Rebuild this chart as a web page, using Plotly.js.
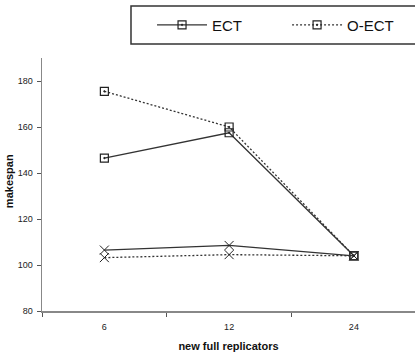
<!DOCTYPE html>
<html>
<head>
<meta charset="utf-8">
<script src="https://cdn.plot.ly/plotly-3.0.1.min.js"></script>
<style>html,body{margin:0;padding:0;background:#fff;}#chart{width:415px;height:357px;}</style>
</head>
<body>
<div id="chart"></div>
<script>
const categories = ["6", "12", "24"];
const ectSquare = [146.5, 157.5, 104];
const oectSquare = [175.5, 160, 104];
const ectCross = [106.5, 108.5, 104];
const oectCross = [103.2, 104.5, 104];
const yTicks = [80, 100, 120, 140, 160, 180];

const lineCol = '#333333';
const dotted = '2px,2px';
const traces = [
  {x: categories, y: ectSquare, name: 'ECT', legend: 'legend', type: 'scatter', mode: 'lines+markers',
   line: {color: lineCol, width: 1.3},
   marker: {symbol: 'square-open-dot', size: 8, color: '#222', line: {width: 1.2}}},
  {x: categories, y: oectSquare, name: 'O-ECT', legend: 'legend2', type: 'scatter', mode: 'lines+markers',
   line: {color: lineCol, width: 1.3, dash: dotted},
   marker: {symbol: 'square-open-dot', size: 8, color: '#222', line: {width: 1.2}}},
  {x: categories, y: ectCross, name: 'ECT ×', showlegend: false, type: 'scatter', mode: 'lines+markers',
   line: {color: lineCol, width: 1.3},
   marker: {symbol: 'x-thin-open', size: 9, color: '#222', line: {width: 1}}},
  {x: categories, y: oectCross, name: 'O-ECT ×', showlegend: false, type: 'scatter', mode: 'lines+markers',
   line: {color: lineCol, width: 1.3, dash: dotted},
   marker: {symbol: 'x-thin-open', size: 9, color: '#222', line: {width: 1}}}
];

const legendBase = {orientation: 'h', xanchor: 'left', yanchor: 'middle', y: 1.13,
  font: {size: 15, color: '#111'}, bgcolor: 'rgba(0,0,0,0)', borderwidth: 0, itemwidth: 50};

const layout = {
  width: 415, height: 357,
  margin: {l: 42, r: 0, t: 58, b: 46},
  paper_bgcolor: '#fff', plot_bgcolor: '#fff',
  font: {family: 'Arial, "Liberation Sans", sans-serif', color: '#222', size: 9},
  showlegend: true,
  legend: Object.assign({}, legendBase, {x: 0.295}),
  legend2: Object.assign({}, legendBase, {x: 0.657}),
  shapes: [{type: 'rect', xref: 'paper', yref: 'paper', x0: 0.2386, x1: 1.02, y0: 1.0553, y1: 1.2055,
            line: {color: '#333', width: 1.5}, fillcolor: 'rgba(0,0,0,0)'}],
  xaxis: {type: 'category', range: [-0.5, 2.49], showgrid: false, zeroline: false,
          showline: true, linecolor: '#888', linewidth: 1.5,
          ticks: 'outside', tickson: 'boundaries', ticklen: 4, tickcolor: '#555',
          tickfont: {size: 9}, ticklabelstandoff: 7,
          title: {text: '<b>new full replicators</b>', font: {size: 11, color: '#111'}, standoff: 11}},
  yaxis: {range: [80, 190], tickvals: yTicks, showgrid: false, zeroline: false,
          showline: true, linecolor: '#888', linewidth: 1.5,
          ticks: 'outside', ticklen: 4, tickcolor: '#555', tickfont: {size: 9}, ticklabelstandoff: 2},
  annotations: [{text: '<b>makespan</b>', xref: 'paper', yref: 'paper', x: -0.09, y: 0.515,
                 xanchor: 'center', yanchor: 'middle', textangle: -90, showarrow: false,
                 font: {size: 11, color: '#111'}}]
};

Plotly.newPlot('chart', traces, layout, {displayModeBar: false, staticPlot: true});
</script>
</body>
</html>
